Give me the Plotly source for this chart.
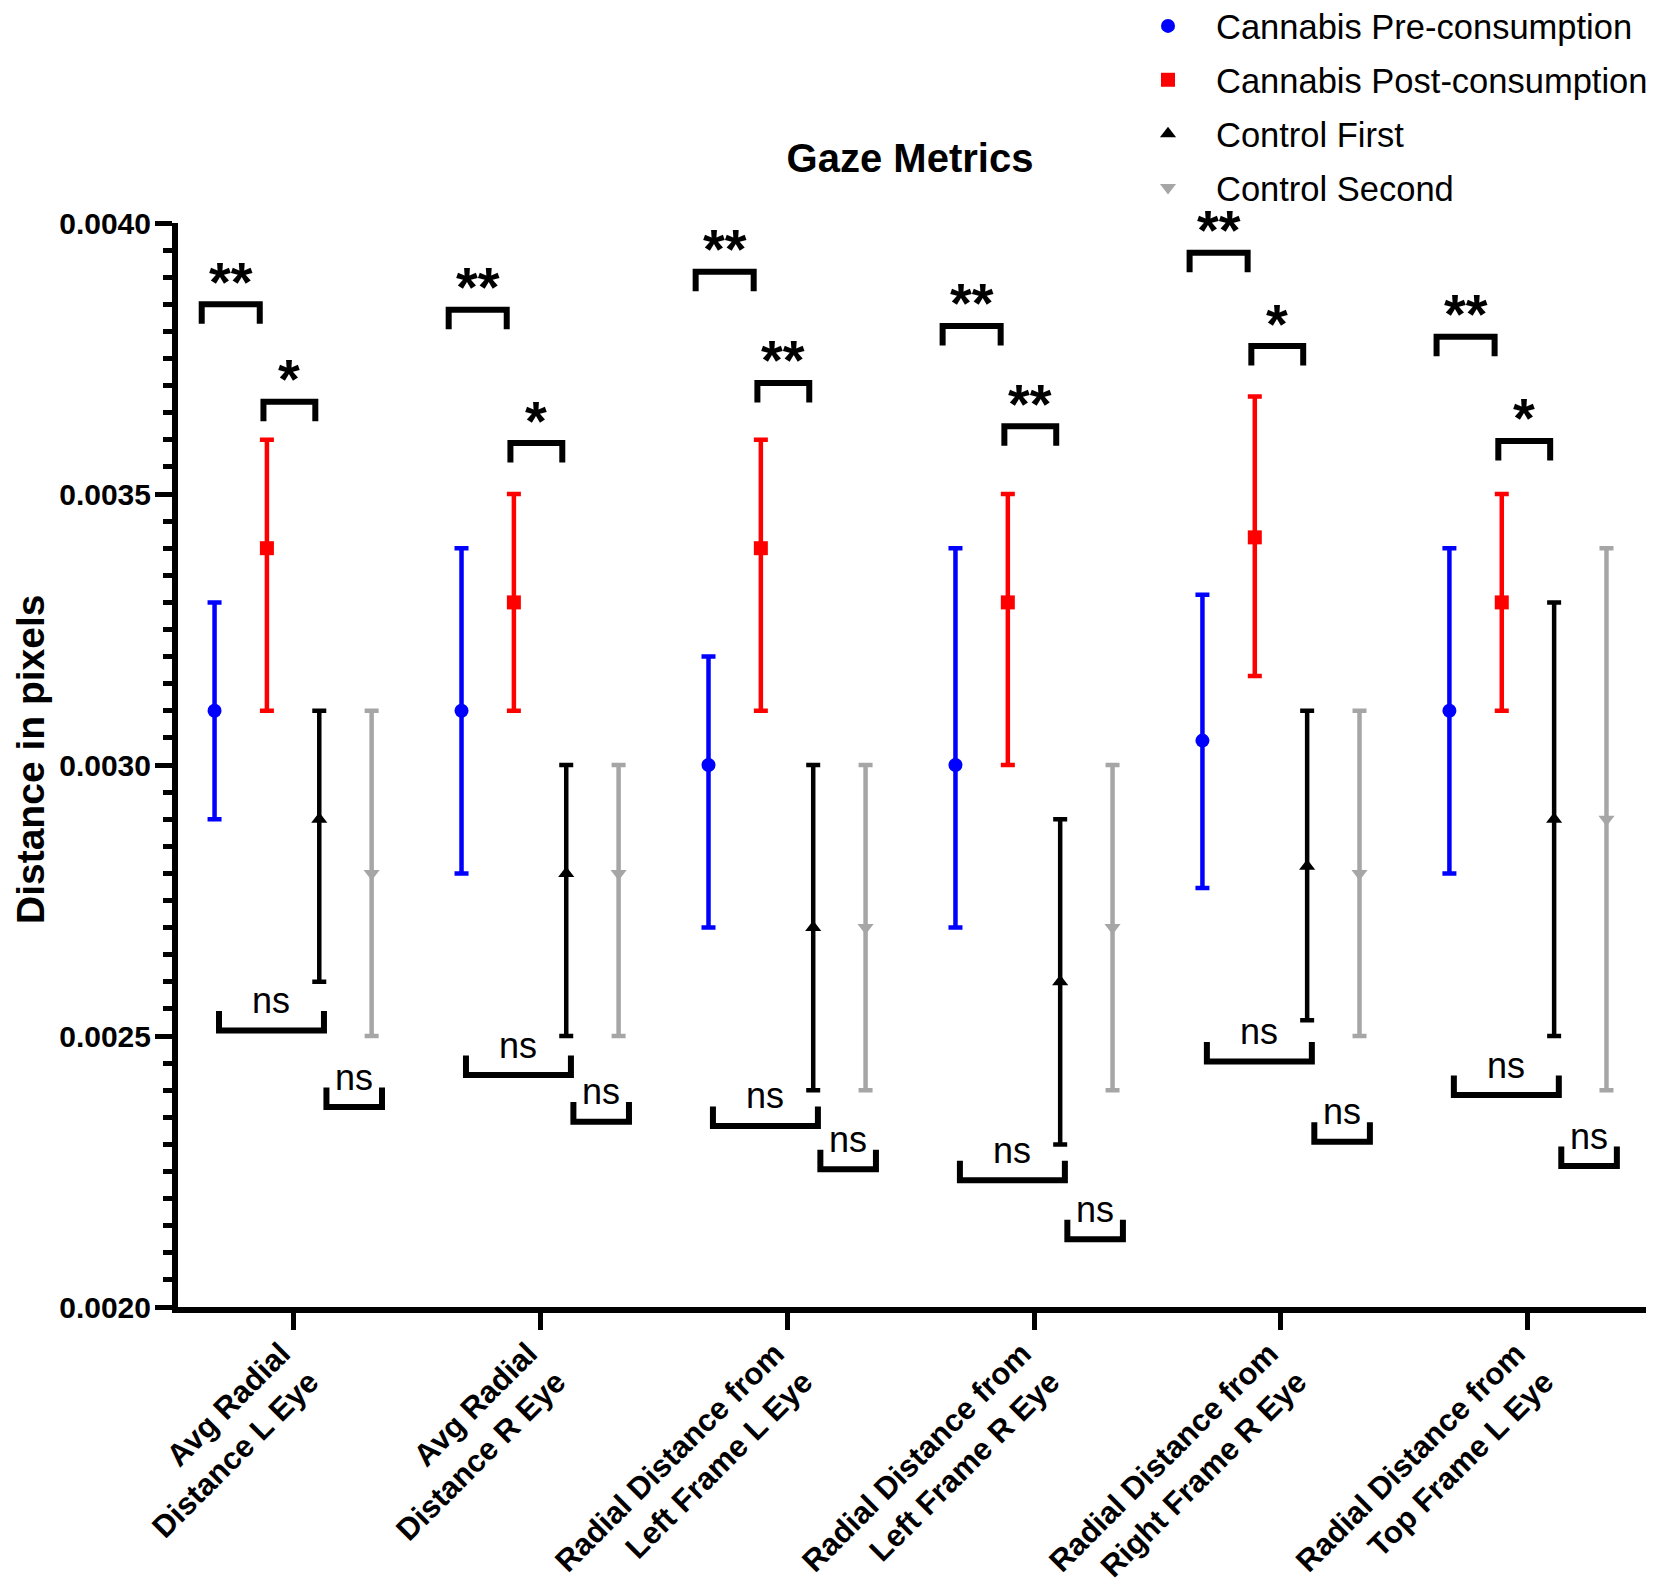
import plotly.graph_objects as go

# ---------------- data ----------------
categories = [
    "Avg Radial<br>Distance L Eye",
    "Avg Radial<br>Distance R Eye",
    "Radial Distance from<br>Left Frame L Eye",
    "Radial Distance from<br>Left Frame R Eye",
    "Radial Distance from<br>Right Frame R Eye",
    "Radial Distance from<br>Top Frame L Eye",
]
series_names = ["Cannabis Pre-consumption", "Cannabis Post-consumption",
                "Control First", "Control Second"]

pre_mean = [0.0031, 0.0031, 0.0030, 0.0030, 0.003045, 0.0031]
pre_hi = [0.0033, 0.0034, 0.0032, 0.0034, 0.003314, 0.0034]
pre_lo = [0.0029, 0.0028, 0.0027, 0.0027, 0.002773, 0.0028]

post_mean = [0.0034, 0.0033, 0.0034, 0.0033, 0.00342, 0.0033]
post_hi = [0.0036, 0.0035, 0.0036, 0.0035, 0.00368, 0.0035]
post_lo = [0.0031, 0.0031, 0.0031, 0.0030, 0.003164, 0.0031]

ctl1_mean = [0.0029, 0.0028, 0.0027, 0.0026, 0.002813, 0.0029]
ctl1_hi = [0.0031, 0.0030, 0.0030, 0.0029, 0.0031, 0.0033]
ctl1_lo = [0.0026, 0.0025, 0.0024, 0.0023, 0.002529, 0.0025]

ctl2_mean = [0.0028, 0.0028, 0.0027, 0.0027, 0.0028, 0.0029]
ctl2_hi = [0.0031, 0.0030, 0.0030, 0.0030, 0.0031, 0.0034]
ctl2_lo = [0.0025, 0.0025, 0.0024, 0.0024, 0.0025, 0.0024]

# significance brackets (level of bracket bar, label)
sig_top1_level = [0.00385, 0.00384, 0.00391, 0.00381, 0.003945, 0.00379]
sig_top1_label = ["**", "**", "**", "**", "**", "**"]
sig_top2_level = [0.00367, 0.003594, 0.003705, 0.003625, 0.003773, 0.003598]
sig_top2_label = ["*", "*", "**", "**", "*", "*"]
sig_bot1_level = [0.00251, 0.002428, 0.002334, 0.002234, 0.002453, 0.002391]
sig_bot1_label = ["ns"] * 6
sig_bot2_level = [0.002369, 0.002342, 0.002254, 0.002125, 0.002305, 0.00226]
sig_bot2_label = ["ns"] * 6

y_ticks = [0.0020, 0.0025, 0.0030, 0.0035, 0.0040]

# ---------------- style ----------------
FONT = "Liberation Sans, Arial, sans-serif"
W, H = 1638, 1577          # page body adds 8px margin on each side
M_L, M_T, M_B = 170, 215, 278
PLOT_W = W - M_L
PLOT_H = H - M_T - M_B
offsets = [-0.318, -0.106, 0.106, 0.318]
colors = ["#0000FF", "#FF0000", "#000000", "#A6A6A6"]
symbols = ["circle", "square", "triangle-up", "triangle-down"]
msizes = [14, 14, 14, 14]
LEG = 0.000036  # bracket leg length in data units

fig = go.Figure()

means = [pre_mean, post_mean, ctl1_mean, ctl2_mean]
his = [pre_hi, post_hi, ctl1_hi, ctl2_hi]
los = [pre_lo, post_lo, ctl1_lo, ctl2_lo]

for k in range(4):
    xs = [i + offsets[k] for i in range(len(categories))]
    fig.add_trace(go.Scatter(
        x=xs, y=means[k], mode="markers", name=series_names[k],
        legendgroup=series_names[k],
        marker=dict(symbol=symbols[k], size=msizes[k], color=colors[k],
                    line=dict(width=0)),
        error_y=dict(type="data", symmetric=False,
                     array=[h - m for h, m in zip(his[k], means[k])],
                     arrayminus=[m - l for m, l in zip(means[k], los[k])],
                     color=colors[k], thickness=4.5, width=7),
    ))

# bracket x spans relative to category centre
spans = {
    "top1": (-0.37, -0.135),
    "top2": (-0.12, 0.09),
    "bot1": (-0.30, 0.125),
    "bot2": (0.135, 0.36),
}
bx, by = [], []
annotations = []
sets = [("top1", sig_top1_level, sig_top1_label, -1),
        ("top2", sig_top2_level, sig_top2_label, -1),
        ("bot1", sig_bot1_level, sig_bot1_label, 1),
        ("bot2", sig_bot2_level, sig_bot2_label, 1)]
for key, levels, labels, direction in sets:
    a, b = spans[key]
    for i, (lv, lab) in enumerate(zip(levels, labels)):
        x0, x1 = i + a, i + b
        bx += [x0, x0, x1, x1, None]
        by += [lv + direction * LEG, lv, lv, lv + direction * LEG, None]
        if lab == "ns":
            annotations.append(dict(x=(x0 + x1) / 2, y=lv, xref="x", yref="y",
                                    text=lab, showarrow=False, yshift=30,
                                    font=dict(family=FONT, size=36, color="black")))
        else:
            annotations.append(dict(x=(x0 + x1) / 2, y=lv, xref="x", yref="y",
                                    text=lab, showarrow=False, yshift=23,
                                    font=dict(family=FONT, size=56, color="black",
                                              weight="bold")))

# y-axis title (placed as rotated annotation so it can sit close to the edge)
annotations.append(dict(text="Distance in pixels", textangle=-90, showarrow=False,
                        xref="paper", x=(22 - M_L) / PLOT_W, xanchor="center",
                        yref="paper", y=(M_T + PLOT_H - 752) / PLOT_H, yanchor="middle",
                        borderpad=0,
                        font=dict(family=FONT, size=39, weight="bold", color="black")))

fig.add_trace(go.Scatter(x=bx, y=by, mode="lines", showlegend=False,
                         line=dict(color="black", width=6),
                         hoverinfo="skip"))

fig.update_layout(
    width=W, height=H,
    paper_bgcolor="white", plot_bgcolor="white",
    margin=dict(l=M_L, r=0, t=M_T, b=M_B, autoexpand=False),
    font=dict(family=FONT, color="black"),
    title=dict(text="Gaze Metrics", xref="container", x=902 / W, xanchor="center",
               yref="container", y=1 - 150 / H, yanchor="middle",
               font=dict(family=FONT, size=40, weight="bold", color="black")),
    legend=dict(xref="container", x=1112 / W, xanchor="left",
                yref="paper", y=(PLOT_H + M_T + 11) / PLOT_H, yanchor="top",
                font=dict(family=FONT, size=34.5, color="black"),
                itemwidth=86, tracegroupgap=6, bgcolor="rgba(0,0,0,0)"),
    annotations=annotations,
    showlegend=True,
)

fig.update_xaxes(
    range=[-0.466, 5.478], automargin=False,
    tickmode="array", tickvals=list(range(len(categories))), ticktext=categories,
    tickangle=-45, ticklabelshift=-12, ticklabelstandoff=-7,
    tickfont=dict(family=FONT, size=31, weight="bold", color="black"),
    showline=True, linewidth=6, linecolor="black",
    ticks="outside", ticklen=17, tickwidth=5, tickcolor="black",
    showgrid=False, zeroline=False,
)
fig.update_yaxes(
    range=[y_ticks[0], y_ticks[-1]], automargin=False,
    tickmode="array", tickvals=y_ticks, tickformat=".4f",
    tickfont=dict(family=FONT, size=30, weight="bold", color="black"),
    ticklabelstandoff=-2,
    showline=True, linewidth=6, linecolor="black",
    ticks="outside", ticklen=17, tickwidth=5, tickcolor="black",
    minor=dict(dtick=0.00005, ticks="outside", ticklen=9, tickwidth=5,
               tickcolor="black", showgrid=False),
    showgrid=False, zeroline=False,
)

fig.write_html("out.html")
